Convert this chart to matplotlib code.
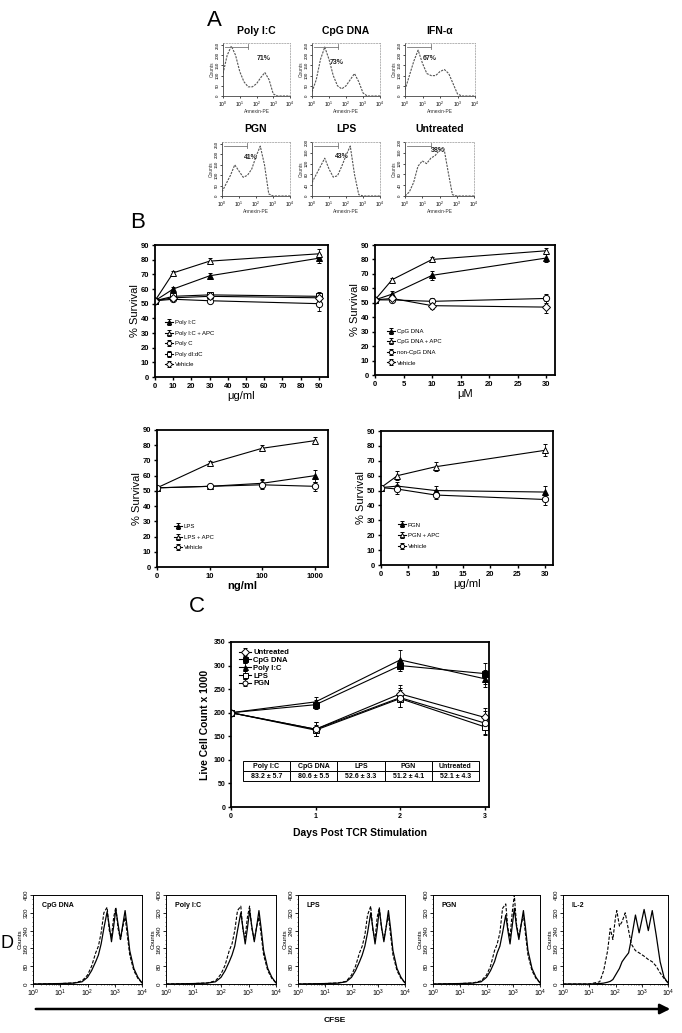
import matplotlib
matplotlib.use("Agg")
import matplotlib.pyplot as plt
import numpy as np

plt.rcParams['font.family'] = ['Liberation Sans', 'DejaVu Sans']
plt.rcParams['mathtext.fontset'] = 'custom'
plt.rcParams['mathtext.rm'] = 'Liberation Sans'
plt.rcParams['mathtext.it'] = 'Liberation Sans'

W, H = 682, 1033

# ---------------- Panel A data (Annexin-PE histograms) ----------------
ann_x = [0.0, 0.25, 0.5, 0.75, 1.0, 1.25, 1.5, 1.75, 2.0, 2.25, 2.5, 2.75, 3.0, 3.25, 3.5, 4.0]
ann_titles = ["Poly I:C", "CpG DNA", "IFN-\u03b1", "PGN", "LPS", "Untreated"]
ann_pct = ["71%", "73%", "67%", "41%", "43%", "38%"]
ann_polyic = [110, 200, 245, 200, 120, 70, 45, 45, 60, 90, 115, 80, 10, 0, 0, 0]
ann_cpg = [20, 80, 180, 240, 180, 100, 50, 35, 50, 80, 110, 70, 15, 0, 0, 0]
ann_ifn = [30, 100, 170, 225, 160, 110, 100, 100, 120, 130, 110, 60, 10, 0, 0, 0]
ann_pgn = [20, 60, 100, 150, 120, 90, 100, 130, 190, 240, 150, 10, 0, 0, 0, 0]
ann_lps = [50, 80, 110, 140, 100, 70, 75, 110, 150, 185, 80, 5, 0, 0, 0, 0]
ann_untr = [0, 15, 50, 110, 130, 120, 140, 150, 170, 180, 90, 5, 0, 0, 0, 0]
ann_ymax = [260, 260, 260, 260, 200, 200]

# ---------------- Panel B data (% survival) ----------------
polyic_dose = [0, 10, 30, 90]
b1_polyic = [52, 60, 69, 81]
b1_polyic_apc = [52, 71, 79, 84]
b1_polyc = [52, 53, 52, 50]
b1_polydidc = [52, 55, 56, 55]
b1_vehicle = [52, 54, 55, 54]
b1_err = [1, 1.5, 2, 3]

cpg_dose = [0, 3, 10, 30]
b2_cpg = [52, 56, 69, 81]
b2_cpg_apc = [52, 66, 80, 86]
b2_noncpg = [52, 52, 51, 53]
b2_vehicle = [52, 53, 48, 47]
b2_err = [1, 2, 3, 3]

lps_dose_labels = ["0", "10", "100", "1000"]
b3_lps = [52, 53, 55, 60]
b3_lps_apc = [52, 68, 78, 83]
b3_vehicle = [52, 53, 54, 53]
b3_err = [1, 1.5, 3, 4]

pgn_dose = [0, 3, 10, 30]
b4_pgn = [52, 53, 50, 49]
b4_pgn_apc = [52, 60, 66, 77]
b4_vehicle = [52, 51, 47, 44]
b4_err = [1, 3, 3, 4]

# ---------------- Panel C data (live cell count) ----------------
days = [0, 1, 2, 3]
c_untreated = [200, 165, 240, 190]
c_cpg = [200, 217, 300, 283]
c_polyic = [200, 223, 312, 272]
c_lps = [200, 163, 230, 170]
c_pgn = [200, 165, 232, 178]
c_err = [3, 15, 18, 20]
table_heads = ["Poly I:C", "CpG DNA", "LPS", "PGN", "Untreated"]
table_vals = ["83.2 \u00b1 5.7", "80.6 \u00b1 5.5", "52.6 \u00b1 3.3", "51.2 \u00b1 4.1", "52.1 \u00b1 4.3"]

# ---------------- Panel D data (CFSE histograms) ----------------
cfse_x = [0.0, 1.0, 1.5, 1.8, 2.0, 2.15, 2.3, 2.4, 2.5, 2.6, 2.72, 2.8, 2.88,
          2.96, 3.04, 3.12, 3.21, 3.3, 3.38, 3.46, 3.55, 3.7, 3.85, 4.0]
d_titles = ["CpG DNA", "Poly I:C", "LPS", "PGN"]
d_cpg_solid = [0, 2, 4, 10, 30, 60, 100, 130, 180, 250, 325, 260, 190, 260, 335, 270, 200, 270, 330, 250, 150, 70, 30, 5]
d_cpg_dash = [0, 2, 5, 14, 40, 80, 140, 170, 230, 320, 345, 240, 210, 300, 345, 250, 200, 260, 300, 220, 130, 60, 25, 5]
d_pic_solid = [0, 2, 4, 10, 30, 60, 100, 130, 170, 240, 320, 250, 180, 250, 330, 260, 190, 260, 330, 250, 150, 70, 30, 5]
d_pic_dash = [0, 2, 5, 14, 45, 85, 150, 180, 240, 330, 350, 240, 210, 300, 350, 250, 200, 260, 300, 220, 130, 60, 25, 5]
d_lps_solid = [0, 2, 4, 10, 30, 60, 100, 130, 170, 230, 320, 250, 180, 250, 335, 260, 190, 260, 330, 250, 150, 70, 30, 5]
d_lps_dash = [0, 2, 5, 12, 40, 80, 140, 170, 220, 310, 350, 240, 200, 300, 345, 250, 200, 260, 310, 220, 130, 60, 25, 5]
d_pgn_solid = [0, 2, 4, 10, 30, 60, 100, 140, 170, 230, 310, 240, 180, 260, 340, 260, 200, 270, 330, 250, 150, 70, 30, 5]
d_pgn_dash = [0, 2, 5, 14, 40, 80, 150, 180, 230, 340, 360, 250, 210, 320, 400, 270, 210, 270, 310, 220, 130, 60, 25, 5]
il2_x = [0.0, 1.0, 1.4, 1.55, 1.7, 1.8, 1.9, 2.0, 2.05, 2.15, 2.25, 2.37, 2.5, 2.6,
         2.76, 2.9, 3.09, 3.25, 3.4, 3.55, 3.7, 3.85, 4.0]
d_il2_solid = [0, 0, 2, 4, 8, 12, 20, 40, 50, 70, 100, 120, 140, 200, 310, 230, 335, 240, 330, 220, 100, 30, 5]
d_il2_dash = [0, 0, 10, 60, 150, 250, 200, 300, 330, 260, 280, 320, 240, 180, 150, 140, 125, 110, 100, 80, 50, 25, 5]

fig = plt.figure(figsize=(W / 100, H / 100), dpi=100)


def box(x0, y0, x1, y1):
    return fig.add_axes([x0 / W, 1 - y1 / H, (x1 - x0) / W, (y1 - y0) / H])


def fx(x):
    return x / W


def fy(y):
    return 1 - y / H


# ================= Panel A =================
fig.text(fx(214), fy(21), "A", fontsize=16, ha='center', va='center')
a_boxes = [(223, 43, 290, 96), (312, 43, 380, 96), (405, 43, 475, 96),
           (222, 142, 290, 196), (312, 142, 380, 196), (405, 142, 474, 196)]
a_title_y = [31, 31, 31, 129, 129, 129]
a_series = [ann_polyic, ann_cpg, ann_ifn, ann_pgn, ann_lps, ann_untr]
a_pct_pos = [(0.50, 0.70), (0.26, 0.64), (0.26, 0.70), (0.32, 0.72), (0.34, 0.74), (0.37, 0.84)]
for i, (bx, ser) in enumerate(zip(a_boxes, a_series)):
    ax = box(*bx)
    ax.plot(ann_x, ser, color='#555555', lw=0.8, ls=(0, (2, 1)))
    ym = ann_ymax[i]
    ax.set_xlim(0, 4)
    ax.set_ylim(0, ym)
    ax.plot([0.1, 1.5], [0.93 * ym, 0.93 * ym], color='#777777', lw=0.6)
    ax.plot([1.5, 1.5], [0.88 * ym, 0.98 * ym], color='#777777', lw=0.6)
    ax.set_xticks([0, 1, 2, 3, 4])
    ax.set_xticklabels(["$10^{0}$", "$10^{1}$", "$10^{2}$", "$10^{3}$", "$10^{4}$"], fontsize=3.5)
    yt = list(range(0, ym + 1, 50)) if ym == 260 else list(range(0, ym + 1, 40))
    ax.set_yticks(yt)
    ax.set_yticklabels([str(v) for v in yt], fontsize=3.2, rotation=90, va='center')
    ax.tick_params(length=1.5, width=0.5, pad=1)
    ax.set_xlabel("Annexin-PE", fontsize=3.5, labelpad=0.5, color='#333333')
    ax.set_ylabel("Counts", fontsize=3.5, labelpad=0.5, color='#333333')
    for s in ['left', 'bottom']:
        ax.spines[s].set_linewidth(0.6)
        ax.spines[s].set_color('#444444')
    for s in ['top', 'right']:
        ax.spines[s].set_linewidth(0.5)
        ax.spines[s].set_color('#999999')
        ax.spines[s].set_linestyle((0, (2, 2)))
    px, py = a_pct_pos[i]
    ax.text(px, py, ann_pct[i], transform=ax.transAxes, fontsize=5, fontweight='bold',
            ha='left', va='center', color='#222222')
    fig.text(fx((bx[0] + bx[2]) / 2), fy(a_title_y[i]), ann_titles[i], fontsize=7.5,
             fontweight='bold', ha='center', va='center')

# ================= Panel B =================
fig.text(fx(138), fy(222), "B", fontsize=16, ha='center', va='center')


def style_b(ax):
    for s in ax.spines.values():
        s.set_linewidth(1.3)
    ax.tick_params(direction='out', length=2.5, width=1, labelsize=5.5, pad=1.5)
    for lab in ax.get_xticklabels() + ax.get_yticklabels():
        lab.set_fontweight('bold')


def ser(ax, x, y, marker, fill, label, err=None):
    mfc = 'black' if fill else 'white'
    ax.errorbar(x, y, yerr=err, color='black', lw=0.8, marker=marker, ms=4.5,
                mfc=mfc, mec='black', mew=0.7, capsize=1.5, elinewidth=0.6, label=label)


def leg_b(ax, x0, y0):
    ax.legend(loc='lower left', bbox_to_anchor=(x0, y0), frameon=False, fontsize=4.3,
              handlelength=1.4, handletextpad=0.3, labelspacing=0.9, borderpad=0,
              markerscale=0.7)


# B top-left
ax = box(155, 245, 328, 377)
ser(ax, polyic_dose, b1_polyic, '^', True, "Poly I:C", b1_err)
ser(ax, polyic_dose, b1_polyic_apc, '^', False, "Poly I:C + APC", b1_err)
ser(ax, polyic_dose, b1_polyc, 'o', False, "Poly C", [0.5, 1, 1.5, 5])
ser(ax, polyic_dose, b1_polydidc, 's', False, "Poly dI:dC", b1_err)
ser(ax, polyic_dose, b1_vehicle, 'D', False, "Vehicle", b1_err)
ax.set_xlim(0, 95)
ax.set_ylim(0, 90)
ax.set_xticks(range(0, 91, 10))
ax.set_yticks(range(0, 91, 10))
style_b(ax)
ax.set_xlabel("\u03bcg/ml", fontsize=8, labelpad=1)
ax.set_ylabel("% Survival", fontsize=8, labelpad=1)
leg_b(ax, 0.04, 0.05)

# B top-right
ax = box(375, 245, 555, 375)
ser(ax, cpg_dose, b2_cpg, '^', True, "CpG DNA", b2_err)
ser(ax, cpg_dose, b2_cpg_apc, '^', False, "CpG DNA + APC", [1, 1.5, 2, 2])
ser(ax, cpg_dose, b2_noncpg, 'o', False, "non-CpG DNA", [1, 1, 2, 3])
ser(ax, cpg_dose, b2_vehicle, 'D', False, "Vehicle", [1, 1, 2, 4])
ax.set_xlim(0, 31.5)
ax.set_ylim(0, 90)
ax.set_xticks(range(0, 31, 5))
ax.set_yticks(range(0, 91, 10))
style_b(ax)
ax.set_xlabel("\u03bcM", fontsize=8, labelpad=1)
ax.set_ylabel("% Survival", fontsize=8, labelpad=1)
leg_b(ax, 0.05, 0.05)

# B bottom-left (categorical doses)
ax = box(157, 430, 328, 567)
pos = np.arange(len(lps_dose_labels))
ser(ax, pos, b3_lps, '^', True, "LPS", b3_err)
ser(ax, pos, b3_lps_apc, '^', False, "LPS + APC", [1, 1.5, 2, 2.5])
ser(ax, pos, b3_vehicle, 'o', False, "Vehicle", [1, 1, 3, 3])
ax.set_xlim(0, 3.25)
ax.set_ylim(0, 90)
ax.set_xticks(pos)
ax.set_xticklabels(lps_dose_labels)
ax.set_yticks(range(0, 91, 10))
style_b(ax)
ax.set_xlabel("ng/ml", fontsize=8, fontweight='bold', labelpad=1)
ax.set_ylabel("% Survival", fontsize=8, labelpad=1)
leg_b(ax, 0.08, 0.10)

# B bottom-right
ax = box(381, 431, 553, 565)
ser(ax, pgn_dose, b4_pgn, '^', True, "PGN", b4_err)
ser(ax, pgn_dose, b4_pgn_apc, '^', False, "PGN + APC", [1, 3, 3, 4])
ser(ax, pgn_dose, b4_vehicle, 'o', False, "Vehicle", [1, 3, 3, 4])
ax.set_xlim(0, 31.5)
ax.set_ylim(0, 90)
ax.set_xticks(range(0, 31, 5))
ax.set_yticks(range(0, 91, 10))
style_b(ax)
ax.set_xlabel("\u03bcg/ml", fontsize=8, labelpad=1)
ax.set_ylabel("% Survival", fontsize=8, labelpad=1)
leg_b(ax, 0.08, 0.10)

# ================= Panel C =================
fig.text(fx(197), fy(606), "C", fontsize=16, ha='center', va='center')
ax = box(231, 642, 489, 807)
ser(ax, days, c_untreated, 'D', False, "Untreated", c_err)
ser(ax, days, c_cpg, 's', True, "CpG DNA", [3, 10, 12, 22])
ser(ax, days, c_polyic, '^', True, "Poly I:C", [3, 10, 20, 18])
ser(ax, days, c_lps, 's', False, "LPS", [3, 12, 18, 15])
ser(ax, days, c_pgn, 'o', False, "PGN", [3, 15, 20, 25])
ax.set_xlim(0, 3.05)
ax.set_ylim(0, 350)
ax.set_xticks(days)
ax.set_yticks(range(0, 351, 50))
for s in ax.spines.values():
    s.set_linewidth(1.3)
ax.tick_params(direction='out', length=2.5, width=1, labelsize=5, pad=1.5)
for lab in ax.get_xticklabels() + ax.get_yticklabels():
    lab.set_fontweight('bold')
ax.set_xlabel("Days Post TCR Stimulation", fontsize=7.5, fontweight='bold', labelpad=6)
ax.set_ylabel("Live Cell Count x 1000", fontsize=7.5, fontweight='bold', labelpad=3)
ax.legend(loc='upper left', bbox_to_anchor=(0.01, 0.99), frameon=False,
          handlelength=1.6, handletextpad=0.3, labelspacing=0.05, borderpad=0.2,
          markerscale=0.8, prop={'weight': 'bold', 'size': 5.5})
tbl = ax.table(cellText=[table_heads, table_vals], cellLoc='center',
               bbox=[0.046, 0.156, 0.915, 0.123])
tbl.auto_set_font_size(False)
for (r, c), cell in tbl.get_celld().items():
    cell.set_linewidth(0.7)
    cell.get_text().set_fontsize(5)
    cell.get_text().set_fontweight('bold')

# ================= Panel D =================
fig.text(fx(7), fy(944), "D", fontsize=13, ha='center', va='center')
d_boxes = [(33, 895, 142, 984), (166, 895, 276, 984), (298, 895, 405, 984),
           (433, 895, 540, 984), (563, 895, 668, 984)]
d_solid = [d_cpg_solid, d_pic_solid, d_lps_solid, d_pgn_solid, d_il2_solid]
d_dash = [d_cpg_dash, d_pic_dash, d_lps_dash, d_pgn_dash, d_il2_dash]
d_names = d_titles + ["IL-2"]
for i, bx in enumerate(d_boxes):
    ax = box(*bx)
    xs = il2_x if i == 4 else cfse_x
    ax.plot(xs, d_solid[i], color='black', lw=0.9)
    ax.plot(xs, d_dash[i], color='black', lw=0.8, ls=(0, (3, 1.5)))
    ax.set_xlim(0, 4)
    ax.set_ylim(0, 400)
    ax.set_xticks([0, 1, 2, 3, 4])
    ax.set_xticklabels(["$10^{0}$", "$10^{1}$", "$10^{2}$", "$10^{3}$", "$10^{4}$"], fontsize=5)
    minors = [d + np.log10(m) for d in range(4) for m in range(2, 10)]
    ax.set_xticks(minors, minor=True)
    ax.set_yticks([0, 80, 160, 240, 320, 400])
    ax.set_yticks(range(0, 401, 20), minor=True)
    ax.set_yticklabels(["0", "80", "160", "240", "320", "400"], fontsize=4.5, rotation=90, va='center')
    ax.tick_params(which='major', length=2, width=0.6, pad=1)
    ax.tick_params(which='minor', length=1, width=0.4)
    ax.set_ylabel("Counts", fontsize=4.5, labelpad=1)
    for s in ax.spines.values():
        s.set_linewidth(0.7)
    ax.text(0.08, 0.88, d_names[i], transform=ax.transAxes, fontsize=5, fontweight='bold',
            ha='left', va='center')

fig.add_artist(matplotlib.patches.FancyArrowPatch(
    (fx(33), fy(1009)), (fx(673), fy(1009)), transform=fig.transFigure,
    arrowstyle='-|>,head_length=6,head_width=3', color='black', lw=1.8))
fig.text(fx(335), fy(1020), "CFSE", fontsize=6, fontweight='bold', ha='center', va='center')

fig.savefig("out.png", dpi=100)
